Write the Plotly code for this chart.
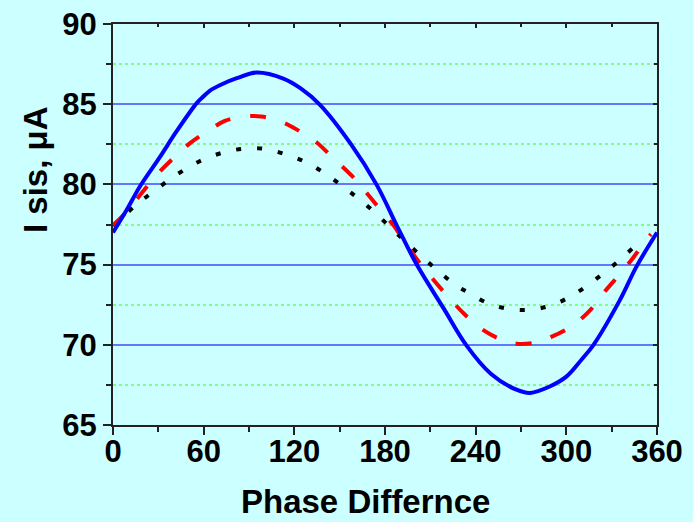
import plotly.graph_objects as go

# Blue solid curve
blue_x = [0, 9, 18, 31, 42, 55.4, 59.8, 64.2, 71, 81.9, 95, 112.7, 124, 137, 157, 174.5, 188, 201, 218.6, 234, 250, 267, 276, 289, 300.2, 310, 318, 335.5, 346.5, 360]
blue_y = [77.0, 78.4, 79.9, 81.7, 83.3, 85.07, 85.48, 85.85, 86.2, 86.62, 86.97, 86.6, 86.0, 84.96, 82.57, 79.97, 77.4, 75.0, 72.3, 69.95, 68.2, 67.2, 67.0, 67.4, 68.03, 69.07, 70.0, 72.8, 74.89, 77.0]

# Red dashed curve
red_x = [0, 9, 19, 28, 40, 51, 64, 74, 87, 98, 111, 122, 135, 145, 158, 167, 178, 186, 195, 203, 213, 222, 233, 243, 256, 267, 280, 290, 304, 315, 325, 334, 344, 352, 356]
red_y = [77.45, 78.3, 79.46, 80.5, 81.64, 82.57, 83.4, 83.96, 84.23, 84.23, 83.92, 83.4, 82.6, 81.7, 80.54, 79.56, 78.3, 77.4, 76.13, 75.1, 73.95, 72.97, 71.87, 71.05, 70.36, 70.07, 70.15, 70.49, 71.19, 72.08, 73.27, 74.26, 75.4, 76.44, 76.9]

# Black dotted curve
black_x = [0, 14.6, 28.8, 43, 57, 71.5, 85.8, 100, 113.8, 128, 142.5, 156.4, 170.8, 184.9, 198.8, 212.9, 227, 234, 248, 262.3, 276.4, 290.6, 304.7, 319, 333, 347, 350]
black_y = [77.4, 78.66, 79.7, 80.66, 81.43, 81.95, 82.22, 82.22, 81.89, 81.37, 80.54, 79.56, 78.46, 77.2, 75.97, 74.79, 73.7, 73.31, 72.6, 72.23, 72.19, 72.48, 73.12, 74.06, 75.1, 76.28, 76.5]

x_ticks = [0, 60, 120, 180, 240, 300, 360]
y_ticks = [65, 70, 75, 80, 85, 90]

x_title = "Phase Differnce"
y_title = "I sis, μA"

BG = "#CCFFFF"
FONT = "Liberation Sans, Arial, sans-serif"

fig = go.Figure()
fig.add_trace(go.Scatter(x=black_x, y=black_y, mode="lines", line=dict(color="black", width=4, dash="5px,16px", shape="spline"), showlegend=False))
fig.add_trace(go.Scatter(x=red_x, y=red_y, mode="lines", line=dict(color="#FF0000", width=4, dash="16px,20px", shape="spline"), showlegend=False))
fig.add_trace(go.Scatter(x=blue_x, y=blue_y, mode="lines", line=dict(color="#0000FF", width=4, shape="spline"), showlegend=False))
fig.add_trace(go.Scatter(x=[], y=[], xaxis="x2", yaxis="y2", showlegend=False))

tickfont = dict(family=FONT, size=31, color="black", weight="bold")
titlefont = dict(family=FONT, size=33, color="black", weight="bold")

fig.update_layout(
    width=693, height=522,
    paper_bgcolor=BG, plot_bgcolor=BG,
    margin=dict(l=113, r=36, t=24, b=97),
    xaxis=dict(
        range=[0, 360], tickvals=x_ticks, ticktext=[str(v) for v in x_ticks],
        showgrid=False, zeroline=False,
        showline=True, linecolor="#222", linewidth=2, mirror=True,
        ticks="outside", ticklen=8, tickwidth=2, tickcolor="#222",
        minor=dict(dtick=30, tick0=0, ticks="outside", ticklen=5, tickwidth=2, tickcolor="#222", showgrid=False),
        tickfont=tickfont, ticklabelstandoff=-10,
        automargin=False,
    ),
    yaxis=dict(
        range=[65, 90], tickvals=y_ticks, ticktext=[str(v) for v in y_ticks],
        showgrid=True, gridcolor="#6677FF", gridwidth=2, zeroline=False,
        showline=True, linecolor="#222", linewidth=2, mirror=True,
        ticks="outside", ticklen=8, tickwidth=2, tickcolor="#222",
        minor=dict(dtick=2.5, tick0=65, ticks="outside", ticklen=5, tickwidth=2, tickcolor="#222",
                   showgrid=True, gridcolor="#7FFF7F", griddash="dot", gridwidth=1.5),
        tickfont=tickfont,
        automargin=False,
    ),
    xaxis2=dict(
        range=[0, 360], overlaying="x", side="top", anchor="y2",
        showgrid=False, zeroline=False, showline=False, showticklabels=False,
        tickvals=x_ticks, ticks="inside", ticklen=4, tickwidth=2, tickcolor="#222",
        minor=dict(dtick=30, tick0=0, ticks="inside", ticklen=3, tickwidth=2, tickcolor="#222"),
    ),
    yaxis2=dict(
        range=[65, 90], overlaying="y", side="right", anchor="x2",
        showgrid=False, zeroline=False, showline=False, showticklabels=False,
        tickvals=y_ticks, ticks="inside", ticklen=4, tickwidth=2, tickcolor="#222",
        minor=dict(dtick=2.5, tick0=65, ticks="inside", ticklen=3, tickwidth=2, tickcolor="#222"),
    ),
    annotations=[
        dict(text=x_title, xref="paper", yref="paper", x=(365 - 113) / 544, y=-(502 - 425) / 401,
             xanchor="center", yanchor="middle", showarrow=False, font=titlefont),
        dict(text=y_title, xref="paper", yref="paper", x=(35 - 113) / 544, y=(425 - 170) / 401,
             xanchor="center", yanchor="middle", showarrow=False, font=titlefont, textangle=-90),
    ],
)

fig.write_html("out.html")
